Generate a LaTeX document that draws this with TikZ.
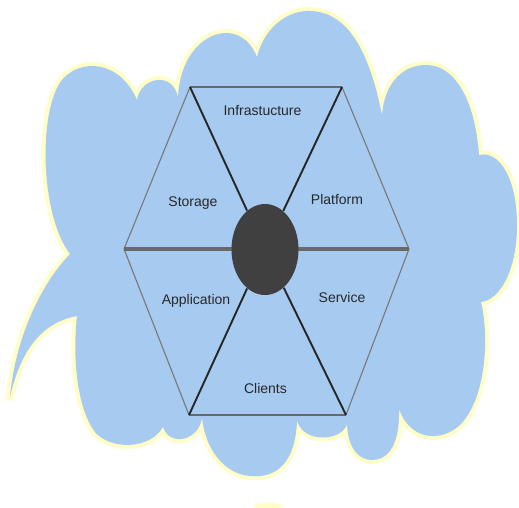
\documentclass[tikz,border=0pt]{standalone}
\usepackage{fontspec}
\setmainfont{Liberation Sans}
\usepackage{tikz}
\usetikzlibrary{shapes.geometric}
\tikzset{every picture/.style={line width=0.75pt}}

\begin{document}
\begin{tikzpicture}[x=1pt,y=1pt,yscale=-1,xscale=1,
  rim/.style={draw={rgb, 255:red, 120; green, 120; blue, 120 }, line width=1.1pt},
  lid/.style={draw={rgb, 255:red, 105; green, 105; blue, 105 }, line width=2.2pt},
  spoke/.style={draw={rgb, 255:red, 38; green, 38; blue, 38 }, line width=1.9pt},
  lbl/.style={text={rgb, 255:red, 40; green, 40; blue, 40 }, font=\fontsize{14}{16}\selectfont, inner sep=0pt, text height=10pt, text depth=3pt}]
\useasboundingbox (0,0) rectangle (519,508);

%Shape: Cloud
\path [fill={rgb, 255:red, 166; green, 202; blue, 240 }, preaction={draw={rgb, 255:red, 255; green, 253; blue, 200 }, line width=8pt, line join=round}]
  (70,254) .. controls (40,215) and (38,110) .. (62,80) .. controls (80,58) and (120,60) .. (137,100)
  .. controls (140,78) and (172,70) .. (178,97)
  .. controls (180,55) and (205,32) .. (228,33) .. controls (242,34) and (252,44) .. (257,57)
  .. controls (265,25) and (290,10) .. (310,11) .. controls (345,12) and (368,45) .. (382,115)
  .. controls (385,80) and (405,65) .. (426,65) .. controls (455,65) and (475,100) .. (479,155)
  .. controls (500,150) and (517,180) .. (517,225) .. controls (517,270) and (500,300) .. (481,302)
  .. controls (490,340) and (485,400) .. (460,425) .. controls (440,443) and (410,440) .. (399,409)
  .. controls (400,450) and (385,460) .. (372,460) .. controls (360,460) and (348,450) .. (347,424)
  .. controls (343,440) and (305,445) .. (297,421)
  .. controls (295,470) and (270,478) .. (250,476) .. controls (225,474) and (205,450) .. (202,417)
  .. controls (200,440) and (170,448) .. (163,427)
  .. controls (150,450) and (110,450) .. (95,432) .. controls (78,410) and (72,360) .. (77,316)
  .. controls (45,322) and (22,345) .. (10,397)
  .. controls (15,340) and (40,285) .. (70,254) -- cycle ;
%Shape: Ellipse
\fill [color={rgb, 255:red, 255; green, 253; blue, 200 }] (268,506) ellipse (15 and 3) ;

%Hexagon corners
\coordinate (tl) at (190,87);
\coordinate (tr) at (342,87);
\coordinate (r) at (409,249);
\coordinate (br) at (346,415);
\coordinate (bl) at (189,415);
\coordinate (l) at (124,249);

%Straight Lines
\draw [rim] (tl) -- (l) -- (bl) ;
\draw [rim] (tr) -- (r) -- (br) ;
\draw [lid] (tl) -- (tr) ;
\draw [lid] (bl) -- (br) ;
\draw [lid, line width=3.2pt] (l) -- (r) ;

%Shape: Ellipse
\node [ellipse, fill={rgb, 255:red, 64; green, 64; blue, 64 }, minimum width=67pt, minimum height=91pt, inner sep=0pt] (hub) at (265,249.5) {};

%Straight Lines
\draw [spoke] (tl) -- (hub) ;
\draw [spoke] (tr) -- (hub) ;
\draw [spoke] (bl) -- (hub) ;
\draw [spoke] (br) -- (hub) ;

% Text Nodes
\node [lbl] (infra) at (262.5,112) {Infrastucture};
\node [lbl] (storage) at (193,203) {Storage};
\node [lbl] (platform) at (337,201) {Platform};
\node [lbl] (application) at (196,301) {Application};
\node [lbl] (service) at (342,299) {Service};
\node [lbl] (clients) at (265.5,390) {Clients};
\end{tikzpicture}
\end{document}
